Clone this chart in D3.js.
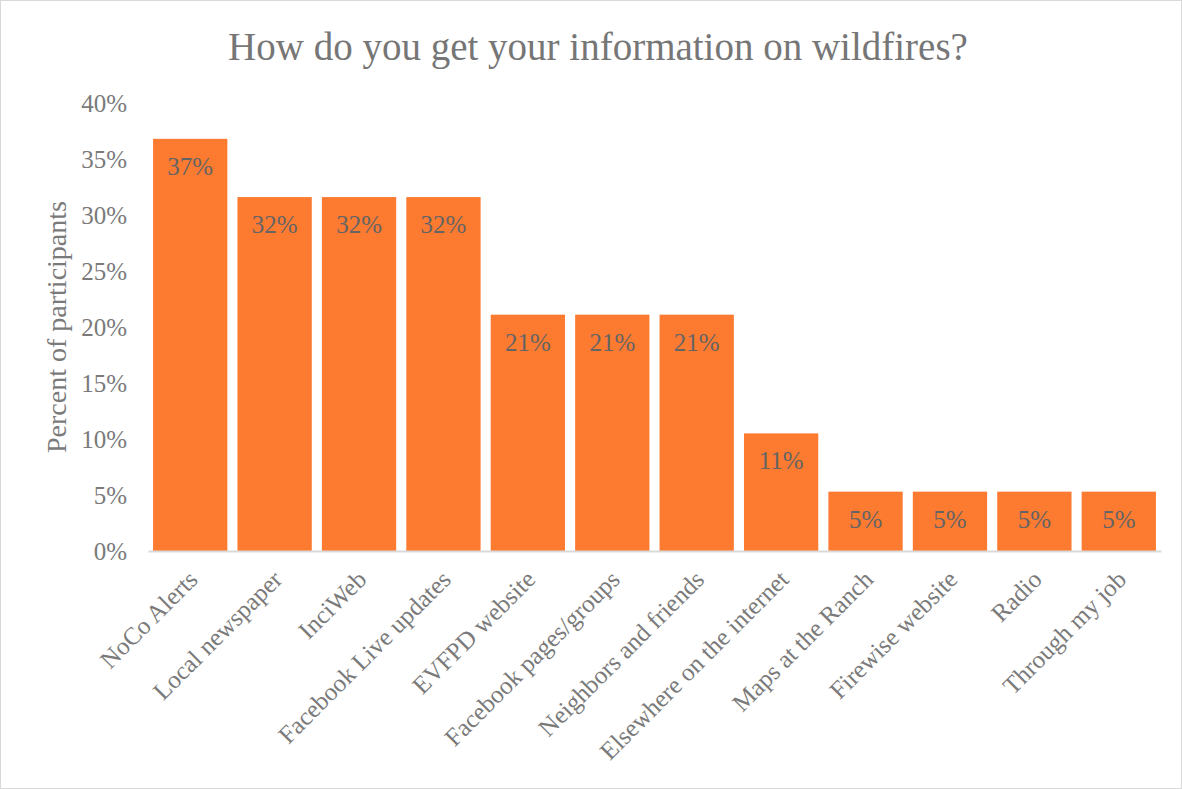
<!DOCTYPE html>
<html><head><meta charset="utf-8">
<script src="https://cdn.jsdelivr.net/npm/d3@7"></script>
<style>body{margin:0;background:#fff}svg{display:block}</style>
</head><body>
<svg id="c" width="1182" height="789"></svg>
<script>
const categories = ["NoCo Alerts","Local newspaper","InciWeb","Facebook Live updates","EVFPD website","Facebook pages/groups","Neighbors and friends","Elsewhere on the internet","Maps at the Ranch","Firewise website","Radio","Through my job"];
const values = [36.8,31.6,31.6,31.6,21.1,21.1,21.1,10.5,5.3,5.3,5.3,5.3];
const yTicks = [0,5,10,15,20,25,30,35,40];
const title = "How do you get your information on wildfires?";
const yTitle = "Percent of participants";

const font = "'Liberation Serif', 'DejaVu Serif', serif";
const svg = d3.select("#c");
svg.append("rect").attr("x",0.5).attr("y",0.5).attr("width",1181).attr("height",788)
  .attr("fill","#fff").attr("stroke","#d9d9d9");

const m = {left:148, right:1161, top:103, bottom:551};
const x = d3.scaleBand().domain(categories).range([m.left,m.right]).paddingInner(0.12).paddingOuter(0.06);
const y = d3.scaleLinear().domain([0,40]).range([m.bottom,m.top]);

svg.append("text").attr("x",598).attr("y",60).attr("text-anchor","middle")
  .attr("font-family",font).attr("font-size",39).attr("fill","#767676").text(title);

// y axis
const ya = svg.append("g").attr("transform",`translate(${m.left},0)`)
  .call(d3.axisLeft(y).tickValues(yTicks).tickFormat(d=>d+"%").tickSize(0).tickPadding(21));
ya.select(".domain").remove();
ya.selectAll("text").attr("font-family",font).attr("font-size",25).attr("fill","#7a7a7a");

svg.append("text").attr("transform",`translate(66,${(m.top+m.bottom)/2}) rotate(-90)`)
  .attr("text-anchor","middle").attr("font-family",font).attr("font-size",28).attr("fill","#7a7a7a").text(yTitle);

// bars
svg.append("g").selectAll("rect").data(values).join("rect")
  .attr("x",(d,i)=>x(categories[i])).attr("width",x.bandwidth())
  .attr("y",d=>y(d)).attr("height",d=>y(0)-y(d)).attr("fill","#FD7A31");

// data labels
svg.append("g").selectAll("text").data(values).join("text")
  .attr("x",(d,i)=>x(categories[i])+x.bandwidth()/2).attr("y",d=>y(d)+36)
  .attr("text-anchor","middle").attr("font-family",font).attr("font-size",25).attr("fill","#646464")
  .text(d=>Math.round(d)+"%");

// x axis
const xa = svg.append("g").attr("transform",`translate(0,${m.bottom})`)
  .call(d3.axisBottom(x).tickSize(0).tickSizeOuter(0));
xa.select(".domain").attr("stroke","#d9d9d9").attr("stroke-width",2);
xa.selectAll("text").attr("font-family",font).attr("font-size",25).attr("fill","#7a7a7a")
  .attr("text-anchor","end").attr("dy",null).attr("y",0)
  .attr("transform","translate(9,30) rotate(-45)");
</script>
</body></html>
